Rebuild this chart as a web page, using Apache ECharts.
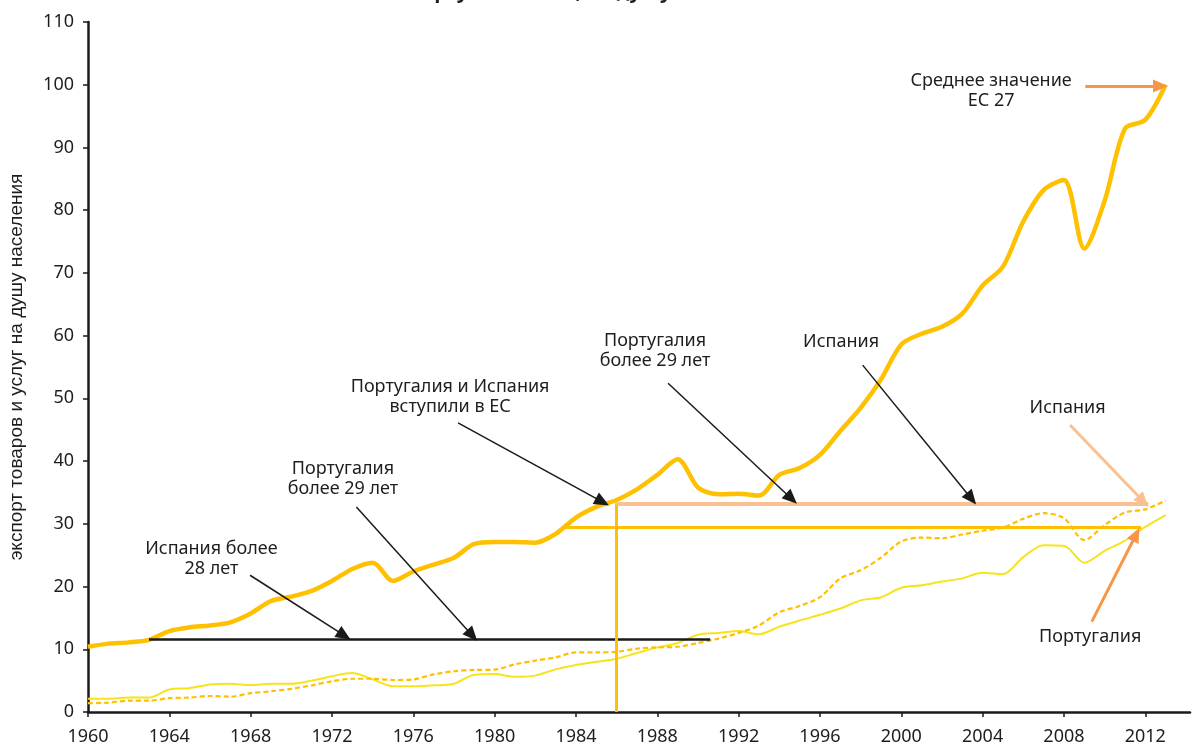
<!DOCTYPE html>
<html>
<head>
<meta charset="utf-8">
<script src="https://cdn.jsdelivr.net/npm/echarts@6/dist/echarts.min.js"></script>
<style>
  html, body { margin: 0; padding: 0; background: #fff; }
  #chart { width: 1193px; height: 742px; }
</style>
</head>
<body>
<div id="chart"></div>
<script>
  const years = [
    1960, 1961, 1962, 1963, 1964, 1965, 1966, 1967, 1968, 1969,
    1970, 1971, 1972, 1973, 1974, 1975, 1976, 1977, 1978, 1979,
    1980, 1981, 1982, 1983, 1984, 1985, 1986, 1987, 1988, 1989,
    1990, 1991, 1992, 1993, 1994, 1995, 1996, 1997, 1998, 1999,
    2000, 2001, 2002, 2003, 2004, 2005, 2006, 2007, 2008, 2009,
    2010, 2011, 2012, 2013
  ];

  // среднее значение ЕС 27
  const eu27 = [
    10.4, 10.9, 11.1, 11.5, 12.9, 13.5, 13.8, 14.3, 15.7, 17.7,
    18.4, 19.3, 20.9, 22.8, 23.8, 20.9, 22.4, 23.5, 24.6, 26.8,
    27.1, 27.1, 27.0, 28.4, 31.0, 32.7, 33.8, 35.5, 37.8, 40.3,
    35.8, 34.7, 34.8, 34.5, 37.8, 38.9, 41.0, 44.8, 48.5, 53.0,
    58.6, 60.3, 61.4, 63.5, 68.0, 71.0, 78.2, 83.2, 84.8, 73.9,
    81.5, 93.0, 94.4, 100.0
  ];

  const spain = [
    1.4, 1.5, 1.8, 1.8, 2.2, 2.3, 2.55, 2.45, 3.0, 3.3,
    3.7, 4.25, 4.9, 5.3, 5.3, 5.1, 5.2, 6.0, 6.5, 6.7,
    6.75, 7.6, 8.2, 8.7, 9.5, 9.5, 9.6, 10.1, 10.3, 10.4,
    11.0, 11.7, 12.6, 13.8, 15.9, 16.9, 18.3, 21.3, 22.6, 24.6,
    27.2, 27.8, 27.7, 28.3, 28.9, 29.4, 30.8, 31.7, 30.9, 27.4,
    29.8, 31.8, 32.3, 33.7
  ];

  const portugal = [
    2.1, 2.1, 2.3, 2.3, 3.6, 3.8, 4.4, 4.5, 4.3, 4.5,
    4.5, 5.0, 5.7, 6.2, 5.2, 4.1, 4.1, 4.25, 4.5, 5.95,
    6.05, 5.6, 5.8, 6.8, 7.5, 8.0, 8.5, 9.4, 10.3, 11.0,
    12.3, 12.6, 12.9, 12.4, 13.6, 14.6, 15.5, 16.5, 17.8, 18.3,
    19.8, 20.2, 20.8, 21.3, 22.2, 22.0, 24.7, 26.6, 26.5, 23.8,
    25.7, 27.3, 29.5, 31.4
  ];

  const xTicks = [1960, 1964, 1968, 1972, 1976, 1980, 1984, 1988, 1992, 1996, 2000, 2004, 2008, 2012];

  const pairs = (vals) => years.map((y, i) => [y, vals[i]]);

  const FONT = "'Noto Sans', 'DejaVu Sans', sans-serif";
  const TEXT = "#1e1e1e";
  const YELLOW = "#ffc000";
  const ORANGE = "#f79646";
  const SALMON = "#fac090";

  // аннотации в координатах графика
  const seg = (a, b, color, width, arrow) => [
    { coord: a, symbol: "none" },
    {
      coord: b,
      symbol: arrow ? "triangle" : "none",
      symbolSize: arrow ? [13, 15] : 0,
      lineStyle: { color: color, width: width, type: "solid" },
      itemStyle: { color: color },
    },
  ];

  const notes = [
    { text: "Среднее значение\nЕС 27", at: [2004.42, 99.06] },
    { text: "Испания", at: [1997.04, 59.03] },
    { text: "Португалия\nболее 29 лет", at: [1987.89, 57.63] },
    { text: "Португалия и Испания\nвступили в ЕС", at: [1977.81, 50.3] },
    { text: "Португалия\nболее 29 лет", at: [1972.54, 37.14] },
    { text: "Испания более\n28 лет", at: [1966.07, 24.47] },
    { text: "Испания", at: [2008.18, 48.46] },
    { text: "Португалия", at: [2009.29, 12.0] },
  ];

  const option = {
    animation: false,
    title: {
      text: "Португалия и ЕС, на душу населения",
      left: "center",
      top: -23,
      textStyle: { fontFamily: FONT, fontSize: 20, fontWeight: "bold", color: TEXT },
    },
    grid: { left: 88, right: 3, top: 22, bottom: 30, outerBoundsMode: "none", containLabel: false },
    xAxis: {
      type: "value",
      min: 1960,
      max: 2014.2,
      axisLine: { lineStyle: { color: "#1a1a1a", width: 2.5 } },
      axisTick: { show: true, length: 5, customValues: xTicks, lineStyle: { color: "#1a1a1a", width: 1.5 } },
      splitLine: { show: false },
      axisLabel: {
        customValues: xTicks,
        formatter: (v) => String(v),
        margin: 16,
        fontFamily: FONT,
        fontSize: 18,
        color: TEXT,
      },
    },
    yAxis: {
      type: "value",
      min: 0,
      max: 110,
      interval: 10,
      name: "экспорт товаров и услуг на душу населения",
      nameLocation: "middle",
      nameGap: 62,
      nameTextStyle: {
        fontFamily: "'Liberation Sans Narrow', 'Liberation Sans', sans-serif",
        fontSize: 19,
        color: TEXT,
      },
      axisLine: { show: true, lineStyle: { color: "#1a1a1a", width: 2.5 } },
      axisTick: { show: true, length: 5, lineStyle: { color: "#1a1a1a", width: 1.5 } },
      splitLine: { show: false },
      axisLabel: { margin: 14, fontFamily: FONT, fontSize: 18, color: TEXT },
    },
    series: [
      {
        name: "Португалия",
        type: "line",
        smooth: 0.3,
        symbol: "none",
        lineStyle: { color: "#f5e41c", width: 2 },
        data: pairs(portugal),
        z: 2,
      },
      {
        name: "Испания",
        type: "line",
        smooth: 0.3,
        symbol: "none",
        lineStyle: { color: YELLOW, width: 2.2, type: [5, 3] },
        data: pairs(spain),
        z: 2,
      },
      {
        name: "ЕС 27",
        type: "line",
        smooth: 0.3,
        symbol: "none",
        lineStyle: { color: YELLOW, width: 4.5 },
        data: pairs(eu27),
        z: 3,
        markLine: {
          silent: true,
          animation: false,
          label: { show: false },
          emphasis: { disabled: true },
          data: [
            seg([1963, 11.6], [1990.6, 11.6], "#1a1a1a", 2.5, false),
            seg([1986.0, 33.3], [1986.0, 0], YELLOW, 3, false),
            seg([1986.0, 33.25], [2012.15, 33.25], SALMON, 4, false),
            seg([1983.4, 29.4], [2011.8, 29.4], YELLOW, 3, false),
            seg([1967.97, 21.8], [1972.6, 12.2], "#1a1a1a", 1.5, true),
            seg([1973.2, 32.7], [1978.9, 12.2], "#1a1a1a", 1.5, true),
            seg([1978.2, 46.1], [1985.3, 33.5], "#1a1a1a", 1.5, true),
            seg([1988.53, 52.4], [1994.6, 34.0], "#1a1a1a", 1.5, true),
            seg([1998.1, 55.3], [2003.45, 34.0], "#1a1a1a", 1.5, true),
            seg([2008.3, 45.75], [2011.9, 33.6], SALMON, 3, true),
            seg([2009.37, 14.4], [2011.55, 28.3], ORANGE, 3, true),
            seg([2009.05, 99.8], [2012.75, 99.8], ORANGE, 3, true),
          ],
        },
      },
    ],
  };

  const chart = echarts.init(document.getElementById("chart"));
  chart.setOption(option);

  // подписи к стрелкам
  const graphics = notes.map((n) => {
    const p = chart.convertToPixel({ gridIndex: 0 }, n.at);
    return {
      type: "text",
      x: p[0],
      y: p[1],
      silent: true,
      style: {
        text: n.text,
        align: "center",
        verticalAlign: "middle",
        font: "18px " + FONT,
        lineHeight: 20,
        fill: TEXT,
      },
    };
  });
  chart.setOption({ graphic: graphics });
</script>
</body>
</html>
